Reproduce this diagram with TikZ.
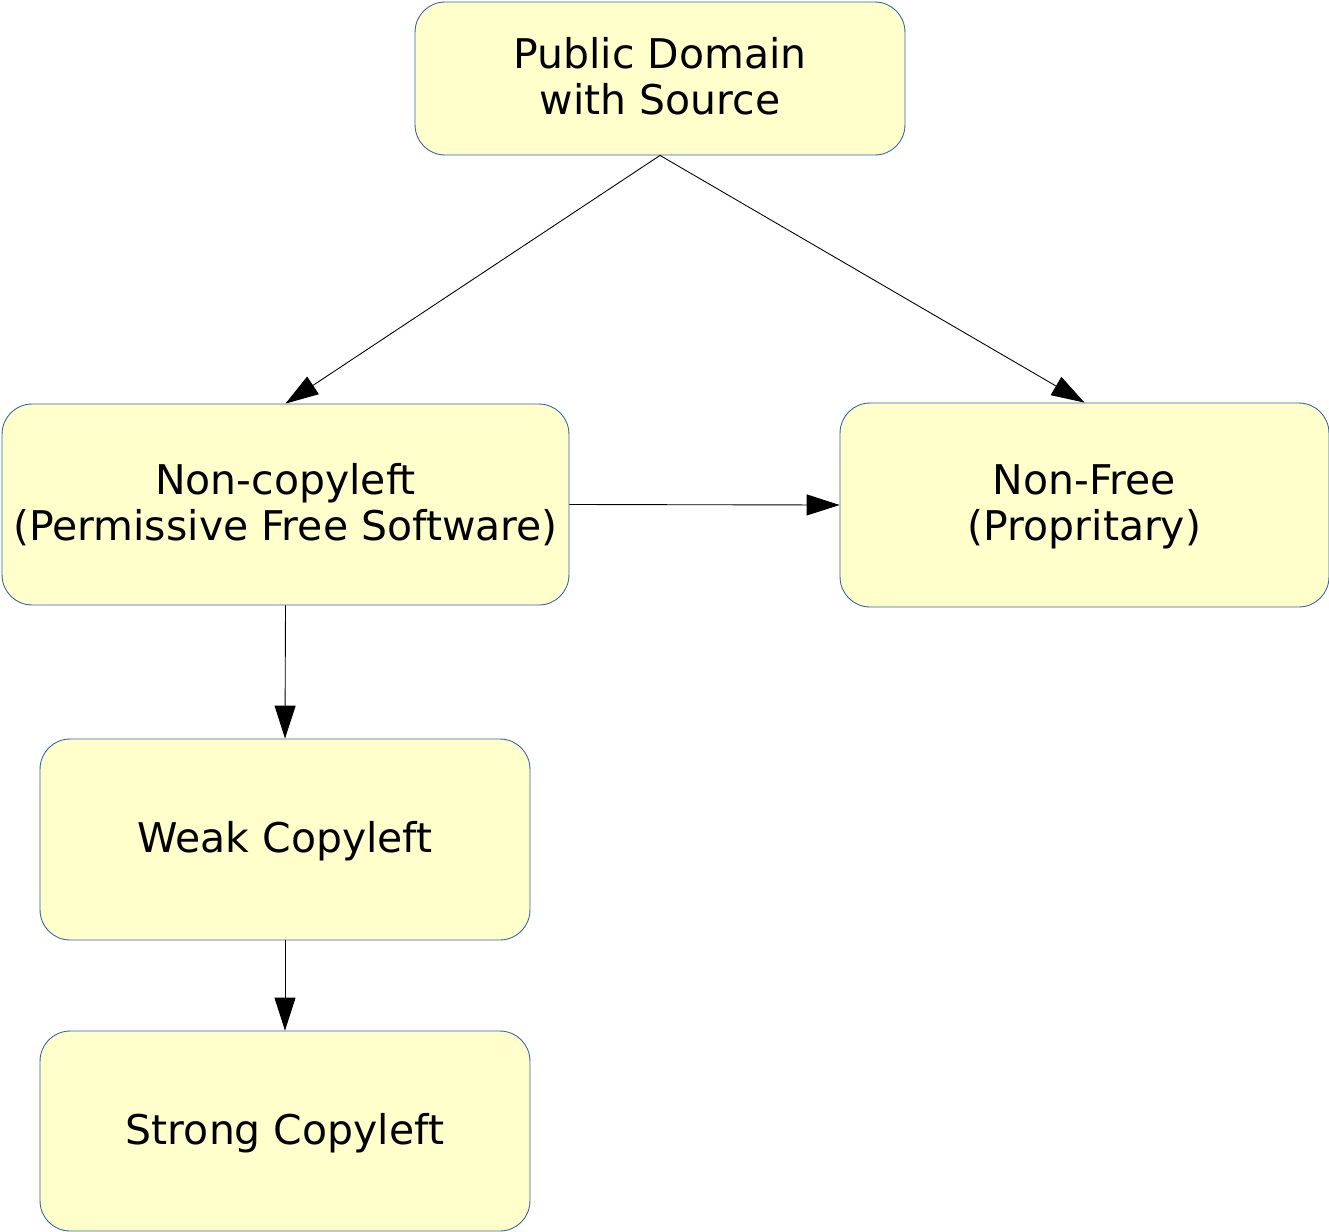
\documentclass[tikz,border=0pt]{standalone}
\usepackage{fontspec}
\setmainfont{DejaVu Sans}
\usepackage{tikz}
\usetikzlibrary{arrows.meta}

\definecolor{boxfill}{RGB}{255,255,204}
\definecolor{boxline}{RGB}{52,101,164}

\begin{document}
\begin{tikzpicture}[x=0.02cm,y=-0.02cm]
	\tikzstyle{every node}=[font=\fontsize{23.3}{25.8}\selectfont]
	\tikzstyle{licbox}=[draw=boxline,fill=boxfill,line width=0.5pt,rounded corners=0.6cm,align=center,inner sep=0pt,text depth=0.1cm]
	\tikzstyle{licarrow}=[line width=0.5pt,-{Triangle[length=0.66cm,width=0.42cm]}]

	\useasboundingbox (0,0) rectangle (1329,1231);

	%% Draw the boxes
	\node [licbox,minimum width=9.8cm,minimum height=3.06cm] (pubdom) at (660,78.5) {Public Domain\\with Source};
	\node [licbox,minimum width=11.34cm,minimum height=4.02cm] (noncopy) at (285.5,504.5) {Non-copyleft\\(Permissive Free Software)};
	\node [licbox,minimum width=9.78cm,minimum height=4.08cm] (nonfree) at (1084.5,505) {Non-Free\\(Propritary)};
	\node [licbox,minimum width=9.8cm,minimum height=4.02cm] (weak) at (285,839.5) {Weak Copyleft};
	\node [licbox,minimum width=9.8cm,minimum height=4cm] (strong) at (285,1131) {Strong Copyleft};

	%% Draw the arrows
	\draw [licarrow] (pubdom.south) -- (noncopy.north);
	\draw [licarrow] (pubdom.south) -- (nonfree.north);
	\draw [licarrow] (noncopy.east) -- (nonfree.west);
	\draw [licarrow] (noncopy.south) -- (weak.north);
	\draw [licarrow] (weak.south) -- (strong.north);

\end{tikzpicture}
\end{document}
